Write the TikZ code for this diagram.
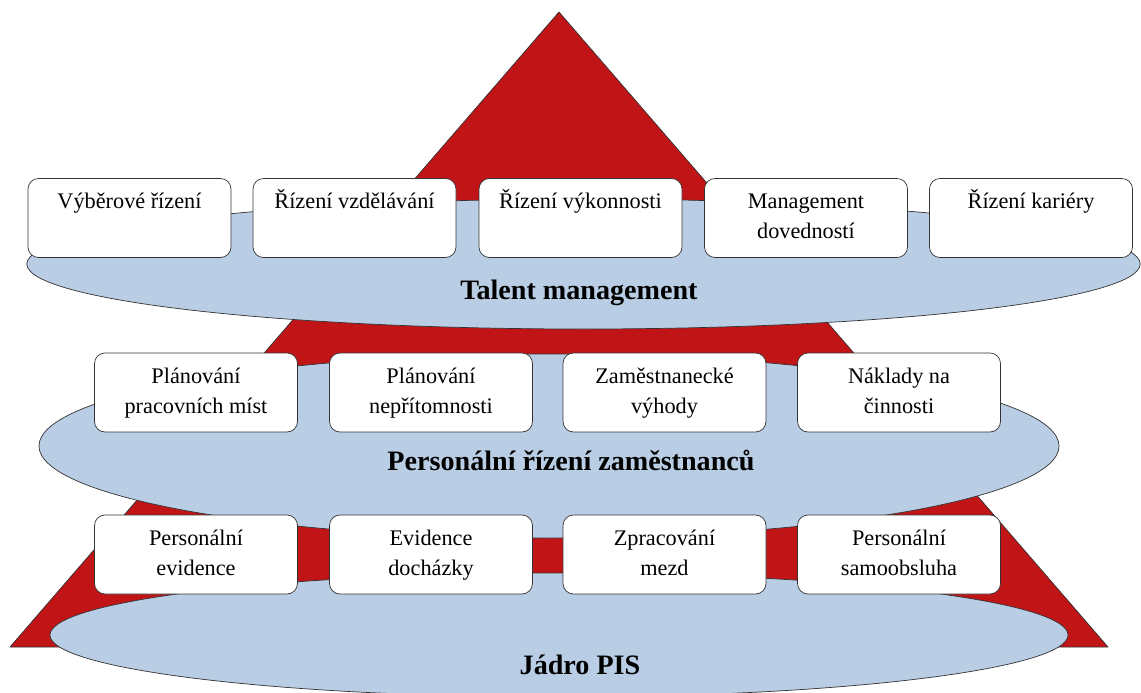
\documentclass[tikz,border=0pt]{standalone}
\usepackage{fontspec}
\setmainfont{Liberation Serif}
\usepackage{xcolor}
\usetikzlibrary{calc}

\definecolor{pyramidred}{RGB}{193,20,23}
\definecolor{layerblue}{RGB}{185,205,228}

\newcommand{\modtext}[1]{\parbox[c][2.37cm][t]{6cm}{\centering\rule{0pt}{26pt}#1}}

\begin{document}
\begin{tikzpicture}[x=0.03cm,y=-0.03cm,line join=round,
  edge/.style={draw=black!80,line width=0.6pt},
  modul/.style={edge,fill=white,rounded corners=9pt,inner sep=0pt,
    minimum width=6.09cm,minimum height=2.37cm,
    font=\fontsize{19}{25.5}\selectfont},
  vrstva/.style={edge,fill=layerblue},
  popis/.style={inner sep=0pt,font=\fontsize{24}{28}\selectfont\bfseries}]
  \useasboundingbox (0,0) rectangle (1141,692);
  % pyramid
  \coordinate (T0) at (559,12);
  \coordinate (T1) at (1108,647);
  \coordinate (T2) at (10,647);
  \draw[edge,fill=pyramidred] (T0) -- (T1) -- (T2) -- cycle;
  % layers
  \draw[vrstva] (583.5,264) ellipse [x radius=16.70cm, y radius=1.95cm];
  \draw[vrstva] (549,446) ellipse [x radius=15.30cm, y radius=2.76cm];
  \draw[vrstva] (559,635) ellipse [x radius=15.27cm, y radius=1.86cm];
  % talent management
  \node[modul] (tm1) at (129.5,218) {\modtext{Výběrové řízení}};
  \node[modul] (tm2) at (354.5,218) {\modtext{Řízení vzdělávání}};
  \node[modul] (tm3) at (580.5,218) {\modtext{Řízení výkonnosti}};
  \node[modul] (tm4) at (806,218) {\modtext{Management\\dovedností}};
  \node[modul] (tm5) at (1031,218) {\modtext{Řízení kariéry}};
  % personalni rizeni
  \node[modul] (pr1) at (196,392.5) {\modtext{Plánování\\pracovních míst}};
  \node[modul] (pr2) at (431,392.5) {\modtext{Plánování\\nepřítomnosti}};
  \node[modul] (pr3) at (664.5,392.5) {\modtext{Zaměstnanecké\\výhody}};
  \node[modul] (pr4) at (899,392.5) {\modtext{Náklady na\\činnosti}};
  % jadro
  \node[modul] (jd1) at (196,554.5) {\modtext{Personální\\evidence}};
  \node[modul] (jd2) at (431,554.5) {\modtext{Evidence\\docházky}};
  \node[modul] (jd3) at (664.5,554.5) {\modtext{Zpracování\\mezd}};
  \node[modul] (jd4) at (899,554.5) {\modtext{Personální\\samoobsluha}};
  % layer titles
  \node[popis] (tmL) at (579,293) {Talent management};
  \node[popis] (prL) at (571,460) {Personální řízení zaměstnanců};
  \node[popis] (jdL) at (580,665) {Jádro PIS};
\end{tikzpicture}
\end{document}
